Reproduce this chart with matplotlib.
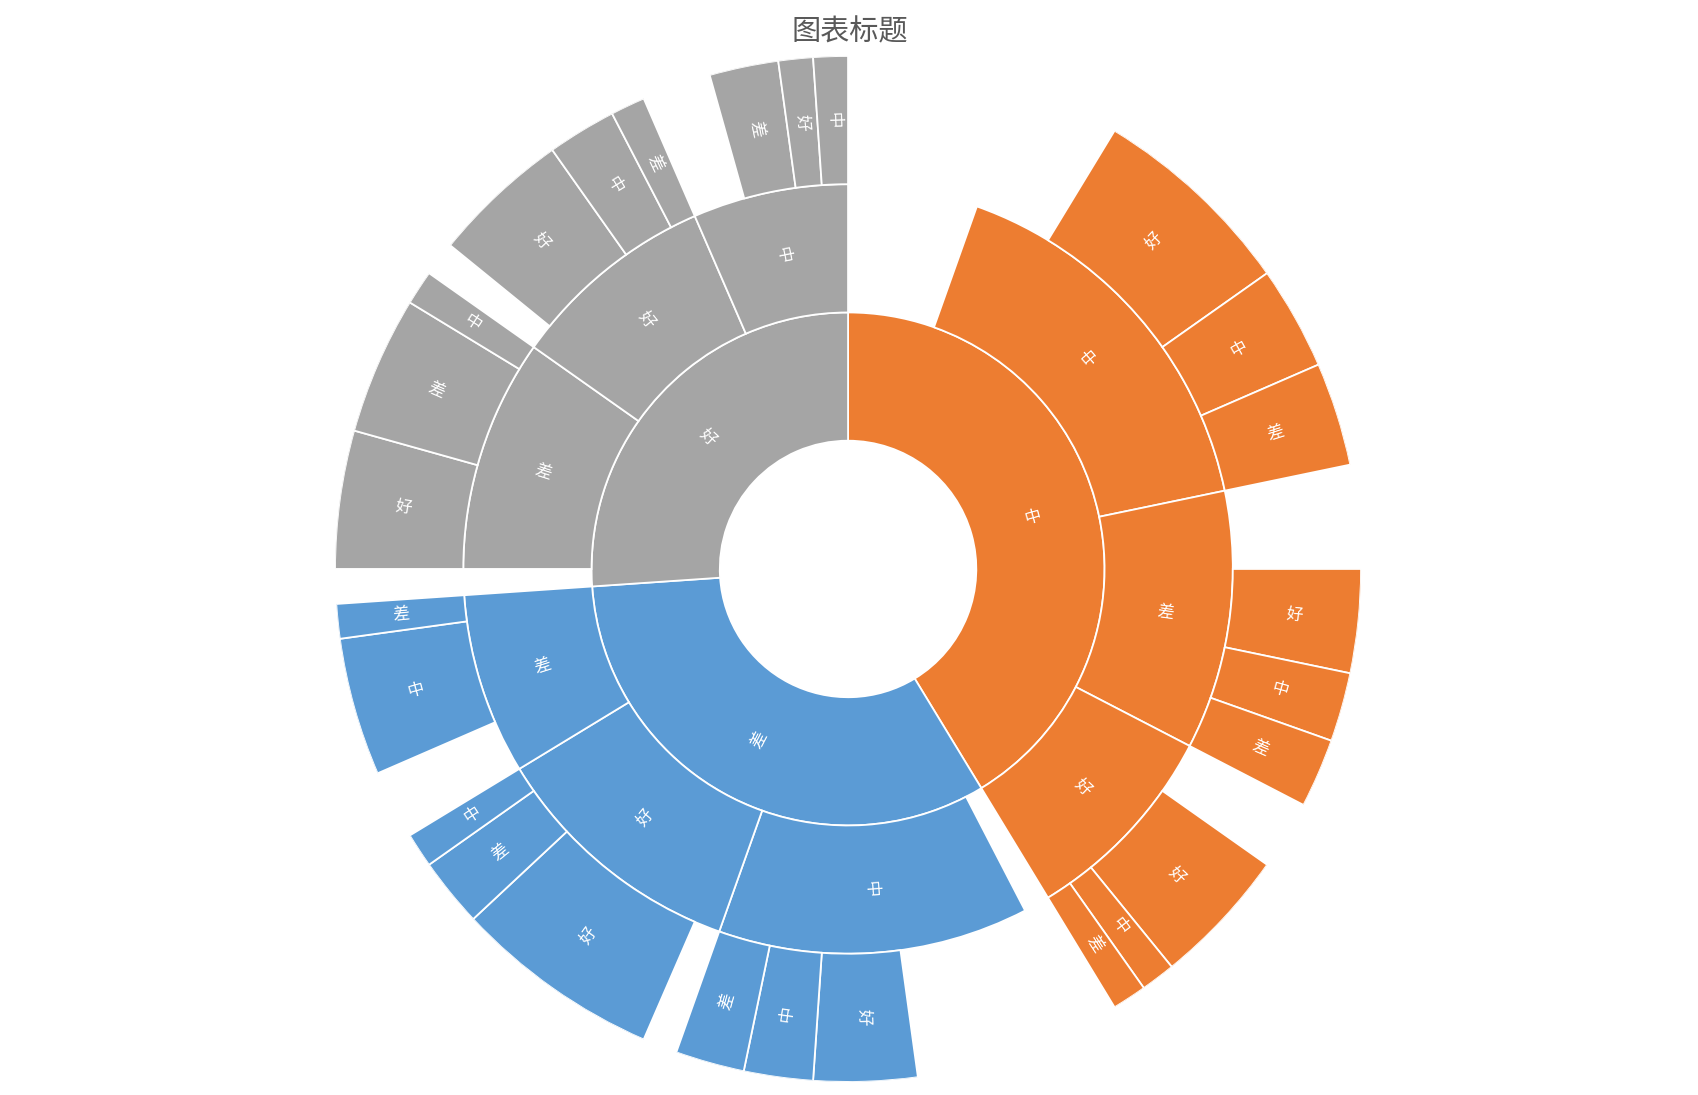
from itertools import groupby

import numpy as np
import matplotlib.pyplot as plt

plt.rcParams['font.family'] = ['Noto Sans CJK SC', 'DejaVu Sans']

# Excel-style table: one row per leaf, blank = no deeper level
level1 = ['中'] * 13 + ['差'] * 12 + ['好'] * 12
level2 = ['', '中', '中', '中', '中', '差', '差', '差', '差', '好', '好', '好', '好',
          '', '中', '中', '中', '中', '好', '好', '好', '好', '差', '差', '差',
          '', '差', '差', '差', '好', '好', '好', '好', '中', '中', '中', '中']
level3 = ['', '', '好', '中', '差', '', '好', '中', '差', '', '好', '中', '差',
          '', '', '好', '中', '差', '', '好', '差', '中', '', '中', '差',
          '', '好', '差', '中', '', '好', '中', '差', '', '差', '好', '中']
counts = [5, 3, 6, 3, 3, 3, 3, 2, 2, 2, 4, 1, 1,
          1, 5, 3, 2, 2, 1, 6, 2, 1, 2, 4, 1,
          1, 4, 4, 1, 1, 4, 2, 1, 2, 2, 1, 1]

colors = {'中': '#ED7D31', '差': '#5B9BD5', '好': '#A5A5A5'}

rows = list(zip(level1, level2, level3, counts))
unit = 2 * np.pi / sum(counts)
starts = np.concatenate([[0], np.cumsum(counts)[:-1]]) * unit

fig = plt.figure(figsize=(16.99, 10.95), dpi=100)
ax = fig.add_axes([0.1972, 0.0119, 0.6039, 0.937], projection='polar')
ax.set_theta_zero_location('N')
ax.set_theta_direction(-1)

for depth in range(3):
    idx = list(range(len(rows)))
    for key, grp in groupby(idx, key=lambda i: rows[i][:depth + 1]):
        grp = list(grp)
        label = key[-1]
        if not label:
            continue
        t0 = starts[grp[0]]
        w = sum(counts[i] for i in grp) * unit
        ax.bar(t0 + w / 2, 1, width=w, bottom=depth + 1, align='center',
               color=colors[key[0]], edgecolor='white', linewidth=1.3)
        # radial label, kept readable
        mid = np.degrees(t0 + w / 2)
        rot = 90 - mid
        rot = (rot + 90) % 180 - 90
        ax.text(t0 + w / 2, depth + 1.5, label, rotation=rot, rotation_mode='anchor',
                ha='center', va='center', color='white', fontsize=12)

ax.set_ylim(0, 4)
ax.set_axis_off()

fig.text(0.5, 1 - 32 / 1095, '图表标题', ha='center', va='center',
         fontsize=21, color='#595959')

fig.savefig('out.png', dpi=100)
